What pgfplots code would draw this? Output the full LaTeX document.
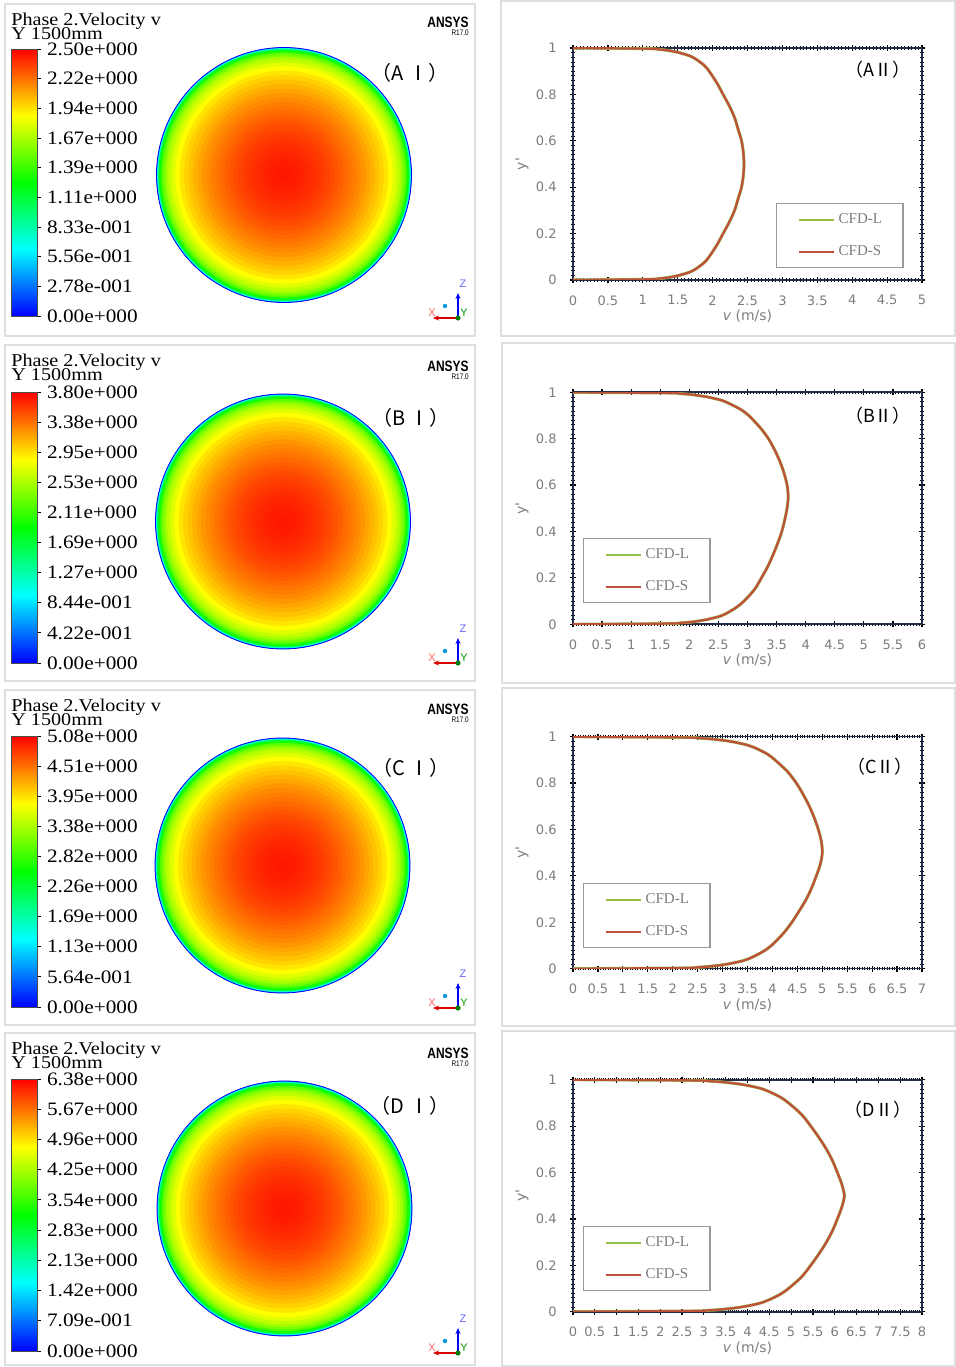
\documentclass[border=0pt]{standalone}
\usepackage{fontspec}
\usepackage{pgfplots}
\usepackage{pgfplotstable}
\pgfplotsset{compat=1.18}
\usetikzlibrary{arrows.meta}
\newfontfamily\ansysfont[FakeStretch=1.12]{Liberation Serif}
\newfontfamily\logofont{Liberation Sans}
\newfontfamily\tickfont{DejaVu Sans}
\newfontfamily\legfont{Liberation Serif}
\newfontfamily\cjk{Noto Sans CJK SC}
\definecolor{cfdl}{RGB}{146,190,70}
\definecolor{cfds}{RGB}{192,80,60}
\definecolor{tickgray}{RGB}{125,125,125}
\definecolor{framegray}{RGB}{222,222,222}
\definecolor{axisnavy}{RGB}{35,45,75}
\pgfplotsset{colormap={ansys}{rgb255(0cm)=(0,0,255) rgb255(1cm)=(0,255,255) rgb255(2cm)=(0,255,0) rgb255(3cm)=(255,255,0) rgb255(4cm)=(255,0,0)}}

% radial velocity field of the section (r normalised, f = v / colour-bar max)
\pgfplotstableread{
x y r f
0 0 1.000 0.0
0 0 0.992 0.30
0 0 0.982 0.45
0 0 0.972 0.52
0 0 0.958 0.58
0 0 0.944 0.62
0 0 0.925 0.66
0 0 0.905 0.69
0 0 0.880 0.72
0 0 0.850 0.75
0 0 0.815 0.775
0 0 0.780 0.795
0 0 0.745 0.81
0 0 0.710 0.825
0 0 0.675 0.84
0 0 0.640 0.853
0 0 0.605 0.866
0 0 0.570 0.877
0 0 0.535 0.888
0 0 0.500 0.898
0 0 0.465 0.908
0 0 0.430 0.918
0 0 0.395 0.927
0 0 0.360 0.935
0 0 0.325 0.942
0 0 0.290 0.948
0 0 0.255 0.954
0 0 0.220 0.959
0 0 0.185 0.964
0 0 0.150 0.968
0 0 0.115 0.972
0 0 0.080 0.975
0 0 0.045 0.977
}\disk

\pgfplotstableread{
v y
0 0
1.08 0.003
1.23 0.006
1.35 0.01
1.52 0.02
1.68 0.035
1.77 0.05
1.88 0.075
1.95 0.1
2.06 0.15
2.15 0.2
2.24 0.25
2.315 0.3
2.365 0.35
2.415 0.4
2.44 0.45
2.45 0.5
2.44 0.55
2.415 0.6
2.365 0.65
2.315 0.7
2.24 0.75
2.15 0.8
2.06 0.85
1.95 0.9
1.88 0.925
1.77 0.95
1.68 0.965
1.52 0.98
1.35 0.99
1.23 0.994
1.08 0.997
0 1
}\pa

\pgfplotstableread{
v y
0 0
1.63 0.003
1.85 0.006
2.04 0.01
2.29 0.02
2.53 0.035
2.66 0.05
2.82 0.075
2.94 0.1
3.12 0.15
3.24 0.2
3.35 0.25
3.44 0.3
3.52 0.35
3.59 0.4
3.64 0.45
3.68 0.5
3.70 0.55
3.68 0.6
3.63 0.65
3.56 0.7
3.47 0.75
3.36 0.8
3.21 0.85
3.02 0.9
2.89 0.925
2.70 0.95
2.56 0.965
2.31 0.98
2.04 0.99
1.85 0.994
1.63 0.997
0 1
}\pb

\pgfplotstableread{
v y
0 0
2.20 0.003
2.50 0.006
2.75 0.01
3.10 0.02
3.42 0.035
3.60 0.05
3.82 0.075
3.98 0.1
4.21 0.15
4.39 0.2
4.54 0.25
4.68 0.3
4.79 0.35
4.88 0.4
4.96 0.45
5.00 0.5
4.98 0.55
4.92 0.6
4.84 0.65
4.74 0.7
4.62 0.75
4.48 0.8
4.30 0.85
4.05 0.9
3.90 0.925
3.67 0.95
3.48 0.965
3.15 0.98
2.78 0.99
2.52 0.994
2.20 0.997
0 1
}\pc

\pgfplotstableread{
v y
0 0
2.74 0.003
3.11 0.006
3.42 0.01
3.86 0.02
4.25 0.035
4.48 0.05
4.75 0.075
4.94 0.1
5.24 0.15
5.45 0.2
5.64 0.25
5.81 0.3
5.95 0.35
6.06 0.4
6.16 0.45
6.22 0.5
6.16 0.55
6.06 0.6
5.95 0.65
5.81 0.7
5.64 0.75
5.45 0.8
5.24 0.85
4.94 0.9
4.75 0.925
4.48 0.95
4.25 0.965
3.86 0.98
3.42 0.99
3.11 0.994
2.74 0.997
0 1
}\pd

\pgfplotsset{
 profile/.style={
  scale only axis, width=174.5pt, height=116pt, anchor=south west,
  xmin=0, ymin=0, ymax=1, clip=true,
  xtick distance=0.5, ytick={0,0.2,0.4,0.6,0.8,1},
  minor x tick num=9, minor y tick num=9,
  tick align=center, major tick length=3pt, minor tick length=1.6pt,
  every tick/.style={black, line width=0.6pt},
  minor tick style={line width=0.35pt},
  axis line style={axisnavy, line width=0.8pt},
  /pgf/number format/assume math mode=true,
  tick label style={font=\tickfont\fontsize{6.5}{7}\selectfont, text=tickgray},
  xticklabel style={anchor=north, inner sep=0pt, yshift=-6pt},
  yticklabel style={anchor=east, inner sep=0pt, xshift=-6.5pt},
  xlabel={{\itshape v} (m/s)},
  ylabel={y'},
  xlabel style={at={(axis description cs:0.5,-0.155)}, anchor=center, font=\tickfont\fontsize{7}{8}\selectfont, text=tickgray},
  ylabel style={at={(axis description cs:-0.146,0.5)}, anchor=center, font=\tickfont\fontsize{7}{8}\selectfont, text=tickgray},
  legend cell align=left,
  legend image code/.code={\draw[##1, line width=1pt, opacity=1] (0pt,0pt) -- (17.5pt,0pt);},
  legend style={draw=gray!80, line width=0.6pt, fill=white,
    font=\legfont\fontsize{7.5}{8}\selectfont, text=tickgray,
    inner xsep=10.5pt, inner ysep=4.8pt, row sep=9.5pt, column sep=2pt,
    nodes={inner sep=0pt}},
 },
 ldata/.style={cfdl, line width=1.5pt, smooth, tension=0.5},
 sdata/.style={cfds, line width=1.1pt, smooth, tension=0.5},
 diskax/.style={anchor=center, scale only axis, width=127.5pt, height=127.5pt,
  hide axis, xmin=-1, xmax=1, ymin=-1, ymax=1, clip=false,
  colormap name=ansys, point meta min=0, point meta max=1, colorbar},
 cbar/.style={at={(parent axis.north west)}, anchor=north west,
  scale only axis, width=13pt,
  ytick={0,0.1111,0.2222,0.3333,0.4444,0.5556,0.6667,0.7778,0.8889,1},
  ytick pos=right,
  tick align=outside, major tick length=1.8pt,
  every tick/.style={black, line width=0.4pt},
  axis line style={black!70, line width=0.3pt},
  yticklabel style={font=\ansysfont\fontsize{9.5}{10}\selectfont, anchor=west, inner sep=0pt, xshift=3pt}},
 diskplot/.style={scatter, only marks, mark=*, scatter src=explicit,
  scatter/use mapped color={draw=mapped color, fill=mapped color},
  visualization depends on={63.75*\thisrow{r} \as \rad},
  scatter/@pre marker code/.append style={/tikz/mark size=\rad, /tikz/line width=0.3pt}},
}

\newcommand{\triad}[2]{%
 \begin{scope}[shift={(#1,#2)}]
 \draw[-{Stealth[length=3pt,width=2.5pt]}, blue, line width=0.8pt] (0,0) -- (0,12.5pt);
 \draw[-{Stealth[length=3pt,width=2.5pt]}, red!85!black, line width=0.8pt] (0,0) -- (-12.5pt,0);
 \fill[green!50!black] (0,0) circle (1.3pt);
 \fill[cyan!80!blue] (-6.5pt,6pt) circle (1.1pt);
 \node[font=\logofont\fontsize{5.5}{6}\selectfont, text=blue!60, inner sep=0pt] at (2.5pt,17pt) {Z};
 \node[font=\logofont\fontsize{5.5}{6}\selectfont, text=red!60, inner sep=0pt] at (-13pt,2.5pt) {X};
 \node[font=\logofont\fontsize{5.5}{6}\selectfont, text=green!60!black, inner sep=0pt] at (3pt,2.5pt) {Y};
 \end{scope}}

\newcommand{\ansyshead}[2]{% title baseline y, logo y
 \node[anchor=base west, inner sep=0pt, font=\ansysfont\fontsize{9}{9}\selectfont] at (5.5pt,#1) {Phase 2.Velocity v};
 \node[anchor=base west, inner sep=0pt, font=\ansysfont\fontsize{9}{9}\selectfont] at (5.5pt,#1-6.7pt) {Y 1500mm};
 \node[anchor=east, inner sep=0pt, xscale=0.8, font=\logofont\bfseries\fontsize{7.5}{8}\selectfont] at (234.5pt,#2) {ANSYS};
 \node[anchor=east, inner sep=0pt, xscale=0.8, font=\logofont\fontsize{4}{4}\selectfont] at (234.5pt,#2-5.2pt) {R17.0};
}

\begin{document}
\begin{tikzpicture}
\useasboundingbox (0,0) rectangle (477.5pt,683.5pt);
\fill[white] (0,0) rectangle (477.5pt,683.5pt);
% panel frames
\begin{scope}[framegray, line width=1pt]
\draw (2.5pt,681.5pt) rectangle (237.5pt,515.5pt);
\draw (2.5pt,511pt) rectangle (237.5pt,343pt);
\draw (2.5pt,338.5pt) rectangle (237.5pt,171pt);
\draw (2.5pt,167pt) rectangle (237.5pt,0.8pt);
\draw (250.5pt,683pt) rectangle (477.5pt,515.5pt);
\draw (251pt,512pt) rectangle (477.5pt,342pt);
\draw (251pt,339.5pt) rectangle (477.5pt,170.5pt);
\draw (251pt,168pt) rectangle (477.5pt,0.5pt);
\end{scope}

% ---------------- A ----------------
\ansyshead{670.5pt}{672.5pt}
\begin{axis}[diskax, at={(142pt,596pt)},
 colorbar style={cbar, xshift=-81.25pt, yshift=-0.75pt, height=133.5pt,
  yticklabels={0.00e+000,2.78e-001,5.56e-001,8.33e-001,1.11e+000,1.39e+000,1.67e+000,1.94e+000,2.22e+000,2.50e+000}}]
\addplot[diskplot] table[x=x, y=y, meta=f] {\disk};
\end{axis}
\node[font=\cjk\fontsize{10}{10}\selectfont] at (205pt,647pt) {（A Ⅰ）};
\triad{229pt}{524.5pt}

\begin{axis}[profile, at={(286.5pt,543.5pt)}, xmax=5,
 legend style={at={(0.582,0.332)}, anchor=north west}]
\addplot[ldata] table[x=v, y=y] {\pa};
\addlegendentry{CFD-L}
\addplot[sdata] table[x=v, y=y] {\pa};
\addlegendentry{CFD-S}
\node[font=\cjk\fontsize{9}{9}\selectfont] at (axis description cs:0.874,0.905) {（AⅡ）};
\end{axis}

% ---------------- B ----------------
\ansyshead{500pt}{500.5pt}
\begin{axis}[diskax, at={(141.5pt,422.75pt)},
 colorbar style={cbar, xshift=-80.75pt, yshift=1pt, height=135.5pt,
  yticklabels={0.00e+000,4.22e-001,8.44e-001,1.27e+000,1.69e+000,2.11e+000,2.53e+000,2.95e+000,3.38e+000,3.80e+000}}]
\addplot[diskplot] table[x=x, y=y, meta=f] {\disk};
\end{axis}
\node[font=\cjk\fontsize{10}{10}\selectfont] at (205.5pt,474.5pt) {（B Ⅰ）};
\triad{229pt}{352pt}

\begin{axis}[profile, at={(286.5pt,371.35pt)}, xmax=6,
 legend style={at={(0.0287,0.372)}, anchor=north west}]
\addplot[ldata] table[x=v, y=y] {\pb};
\addlegendentry{CFD-L}
\addplot[sdata] table[x=v, y=y] {\pb};
\addlegendentry{CFD-S}
\node[font=\cjk\fontsize{9}{9}\selectfont] at (axis description cs:0.874,0.898) {（BⅡ）};
\end{axis}

% ---------------- C ----------------
\ansyshead{327.5pt}{329pt}
\begin{axis}[diskax, at={(141.25pt,250.75pt)},
 colorbar style={cbar, xshift=-80.5pt, yshift=1pt, height=135.5pt,
  yticklabels={0.00e+000,5.64e-001,1.13e+000,1.69e+000,2.26e+000,2.82e+000,3.38e+000,3.95e+000,4.51e+000,5.08e+000}}]
\addplot[diskplot] table[x=x, y=y, meta=f] {\disk};
\end{axis}
\node[font=\cjk\fontsize{10}{10}\selectfont] at (205.5pt,299.5pt) {（C Ⅰ）};
\triad{229pt}{179.5pt}

\begin{axis}[profile, at={(286.5pt,199.15pt)}, xmax=7,
 legend style={at={(0.0287,0.369)}, anchor=north west}]
\addplot[ldata] table[x=v, y=y] {\pc};
\addlegendentry{CFD-L}
\addplot[sdata] table[x=v, y=y] {\pc};
\addlegendentry{CFD-S}
\node[font=\cjk\fontsize{9}{9}\selectfont] at (axis description cs:0.88,0.869) {（CⅡ）};
\end{axis}

% ---------------- D ----------------
\ansyshead{156pt}{157pt}
\begin{axis}[diskax, at={(142.25pt,79.25pt)},
 colorbar style={cbar, xshift=-81.5pt, yshift=1pt, height=136pt,
  yticklabels={0.00e+000,7.09e-001,1.42e+000,2.13e+000,2.83e+000,3.54e+000,4.25e+000,4.96e+000,5.67e+000,6.38e+000}}]
\addplot[diskplot] table[x=x, y=y, meta=f] {\disk};
\end{axis}
\node[font=\cjk\fontsize{10}{10}\selectfont] at (205pt,130.5pt) {（D Ⅰ）};
\triad{229pt}{7pt}

\begin{axis}[profile, at={(286.5pt,27.65pt)}, xmax=8,
 legend style={at={(0.0287,0.369)}, anchor=north west}]
\addplot[ldata] table[x=v, y=y] {\pd};
\addlegendentry{CFD-L}
\addplot[sdata] table[x=v, y=y] {\pd};
\addlegendentry{CFD-S}
\node[font=\cjk\fontsize{9}{9}\selectfont] at (axis description cs:0.874,0.869) {（DⅡ）};
\end{axis}
\end{tikzpicture}
\end{document}
